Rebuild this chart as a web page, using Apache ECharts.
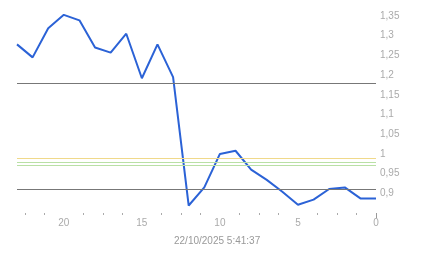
<!DOCTYPE html>
<html>
<head>
<meta charset="utf-8">
<script src="https://cdn.jsdelivr.net/npm/echarts@6/dist/echarts.min.js"></script>
<style>html,body{margin:0;padding:0;background:#fff}#c{width:443px;height:258px}</style>
</head>
<body>
<div id="c"></div>
<script>
const xValues = [23, 22, 21, 20, 19, 18, 17, 16, 15, 14, 13, 12, 11, 10, 9, 8, 7, 6, 5, 4, 3, 2, 1, 0];
const yValues = [1.278, 1.245, 1.319, 1.353, 1.339, 1.270, 1.257, 1.305, 1.192, 1.278, 1.195, 0.869, 0.915, 1.000, 1.008, 0.960, 0.934, 0.904, 0.871, 0.884, 0.911, 0.915, 0.887, 0.887];
const refLines = [
  { value: 1.175, color: '#777777' },
  { value: 0.912, color: '#777777' },
  { value: 0.991, color: '#f0d98a' },
  { value: 0.976, color: '#b9e0a5' },
  { value: 0.969, color: '#b9e0a5' }
];
const xTickLabels = [0, 5, 10, 15, 20];
const minorTickValues = [1.25, 2.5, 3.75, 6.25, 7.5, 8.75, 11.25, 12.5, 13.75, 16.25, 17.5, 18.75, 21.25, 22.5];
const timestamp = '22/10/2025 5:41:37';

const chart = echarts.init(document.getElementById('c'), null, { renderer: 'canvas' });
const font = 'Liberation Sans, Arial, sans-serif';
chart.setOption({
  animation: false,
  grid: { left: 17, right: 67, top: 16, bottom: 45 },
  xAxis: [{
    type: 'value', min: 0, max: 23, inverse: true,
    axisLine: { show: false }, splitLine: { show: false },
    axisTick: { show: true, customValues: minorTickValues, length: 2, lineStyle: { color: '#aaaaaa', width: 1 } },
    axisLabel: { customValues: xTickLabels, color: '#aaaaaa', fontSize: 10, fontFamily: font, margin: 5 }
  }, {
    type: 'value', min: 0, max: 23, inverse: true, position: 'bottom',
    axisLine: { show: false }, splitLine: { show: false },
    axisTick: { show: true, customValues: [0], length: 5, inside: false, lineStyle: { color: '#999999', width: 1 } },
    axisLabel: { show: false }
  }],
  yAxis: {
    type: 'value', min: 0.85, max: 1.35, interval: 0.05, position: 'right',
    axisLine: { show: false }, axisTick: { show: false }, splitLine: { show: false },
    axisLabel: {
      showMinLabel: false, color: '#aaaaaa', fontSize: 10, fontFamily: font, margin: 4,
      formatter: v => String(Math.round(v * 100) / 100).replace('.', ',')
    }
  },
  graphic: [{
    type: 'text', left: 174, top: 236,
    style: { text: timestamp, fill: '#999999', font: '10px ' + font }
  }],
  series: [{
    type: 'line', data: xValues.map((x, i) => [x, yValues[i]]),
    showSymbol: false, clip: false,
    lineStyle: { color: '#2b62d6', width: 2 },
    markLine: {
      silent: true, symbol: 'none', label: { show: false },
      data: refLines.map(r => ({ yAxis: r.value, lineStyle: { color: r.color, width: 1, type: 'solid' } }))
    },
    z: 3
  }]
});
</script>
</body>
</html>
